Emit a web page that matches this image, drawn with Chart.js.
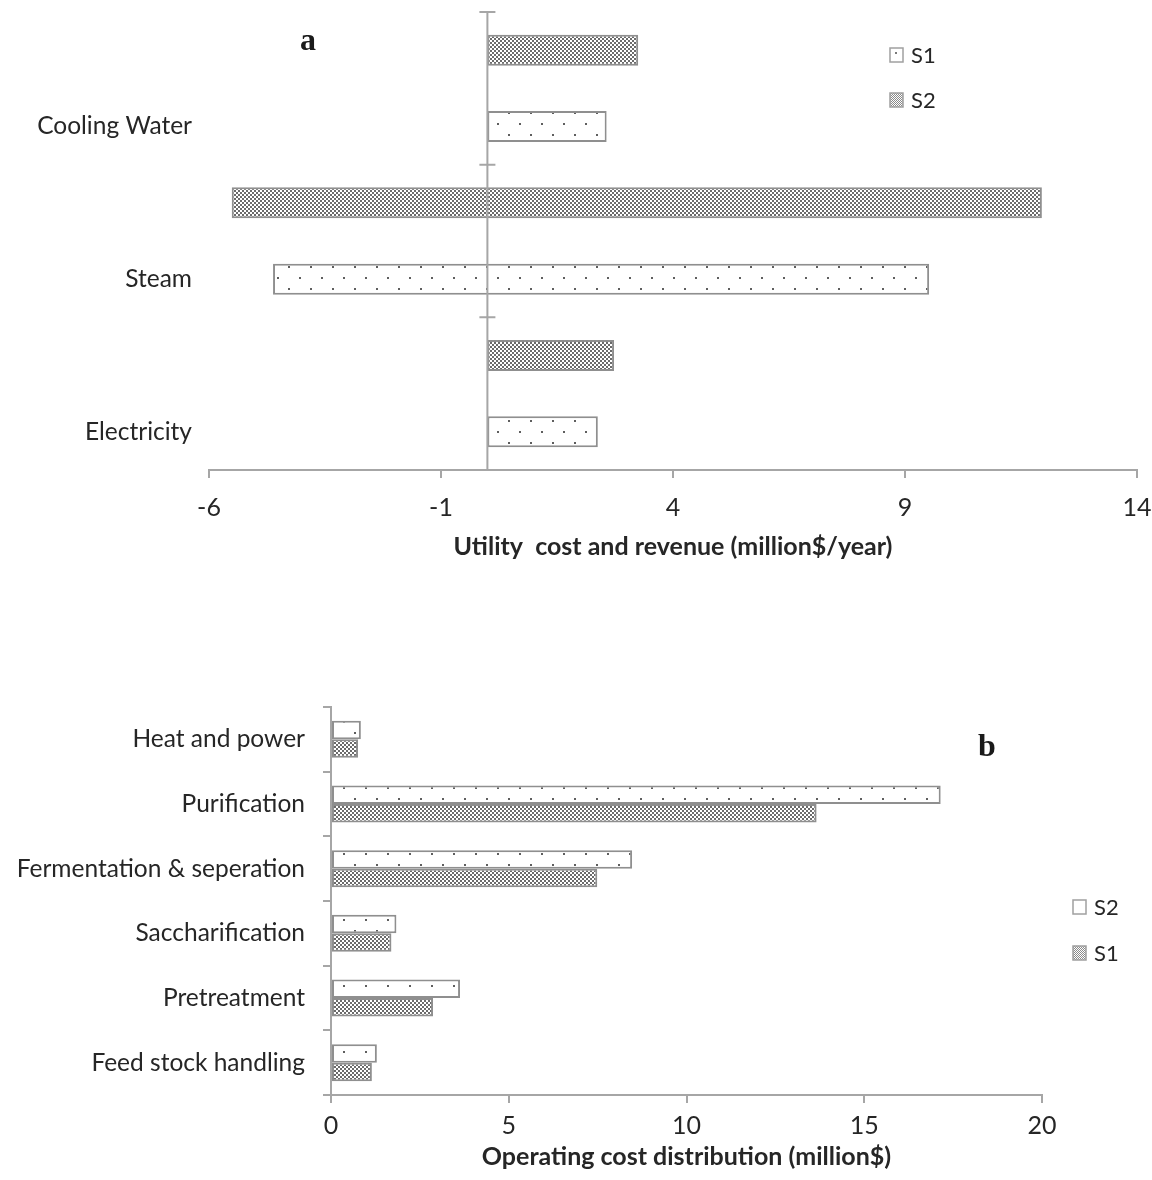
<!DOCTYPE html>
<html>
<head>
<meta charset="utf-8">
<script src="https://cdn.jsdelivr.net/npm/chart.js@4.4.0/dist/chart.umd.min.js"></script>
<style>
  html, body { margin: 0; padding: 0; background: #fff; }
  #wrapA { position: absolute; left: 0; top: 0; width: 1152px; height: 580px; }
  #wrapB { position: absolute; left: 0; top: 620px; width: 1152px; height: 560px; }
</style>
</head>
<body>
<div id="wrapA"><canvas id="chartA"></canvas></div>
<div id="wrapB"><canvas id="chartB"></canvas></div>
<script>
// Panel a: utility cost (positive) and revenue (negative), million $/year
const utilityCategories = ['Cooling Water', 'Steam', 'Electricity'];
const utilityCostS1 = [2.57, 9.52, 2.38];
const utilityRevenueS1 = [0, -4.62, 0];
const utilityCostS2 = [3.25, 11.95, 2.73];
const utilityRevenueS2 = [0, -5.51, 0];
const utilityTicks = [-6, -1, 4, 9, 14];

// Panel b: operating cost distribution by process area, million $
const stageCategories = ['Heat and power', 'Purification', 'Fermentation & seperation',
  'Saccharification', 'Pretreatment', 'Feed stock handling'];
const stageCostS2 = [0.84, 17.15, 8.47, 1.84, 3.63, 1.29];
const stageCostS1 = [0.76, 13.66, 7.49, 1.70, 2.87, 1.15];
const stageTicks = [0, 5, 10, 15, 20];

const FONT = 'Lato';
const TEXT = '#262626';
const AXIS = '#a6a6a6';
const EDGE = '#8f8f8f';

Chart.defaults.font.family = FONT;
Chart.defaults.color = TEXT;
Chart.defaults.animation = false;

// fill patterns: fine checker and sparse dots
function makeChecker(cell, dark) {
  const c = document.createElement('canvas');
  c.width = c.height = cell * 2;
  const g = c.getContext('2d');
  g.fillStyle = '#fff'; g.fillRect(0, 0, cell * 2, cell * 2);
  g.fillStyle = dark;
  g.fillRect(0, 0, cell, cell);
  g.fillRect(cell, cell, cell, cell);
  return g.createPattern(c, 'repeat');
}
function makeDots(step, size, color) {
  const c = document.createElement('canvas');
  c.width = c.height = step * 2;
  const g = c.getContext('2d');
  g.fillStyle = '#fff'; g.fillRect(0, 0, step * 2, step * 2);
  g.fillStyle = color;
  g.fillRect(2, 2, size, size);
  g.fillRect(step + 2, step + 2, size, size);
  return g.createPattern(c, 'repeat');
}
const checker = makeChecker(2, '#6b6b6b');
const checkerFine = makeChecker(1, '#8a8a8a');
const dots = makeDots(11, 2, '#5e5e5e');

function drawLegend(ctx, items, x, y0, gap) {
  ctx.save();
  ctx.font = '22px ' + FONT;
  ctx.textBaseline = 'middle';
  ctx.textAlign = 'left';
  items.forEach((it, i) => {
    const cy = y0 + i * gap;
    ctx.fillStyle = it.fill;
    ctx.fillRect(x, cy - 7, 13, 14);
    ctx.strokeStyle = '#a0a0a0';
    ctx.lineWidth = 1.5;
    ctx.strokeRect(x, cy - 7, 13, 14);
    if (it.dot) {
      ctx.fillStyle = '#7a7a7a';
      ctx.fillRect(x + 5, cy - 3, 2, 2);
    }
    ctx.fillStyle = TEXT;
    ctx.fillText(it.label, x + 21, cy + 1);
  });
  ctx.restore();
}

function drawLetter(ctx, letter, x, y) {
  ctx.save();
  ctx.font = 'bold 32px "Liberation Serif"';
  ctx.fillStyle = '#1a1a1a';
  ctx.textAlign = 'center';
  ctx.textBaseline = 'middle';
  ctx.fillText(letter, x, y);
  ctx.restore();
}

// vertical axis through zero with ticks on the category boundaries
const zeroAxis = {
  id: 'zeroAxis',
  afterDatasetsDraw(chart) {
    const { ctx, chartArea: { top, bottom }, scales: { x, y } } = chart;
    const x0 = x.getPixelForValue(0);
    const n = y.ticks.length;
    const step = (bottom - top) / n;
    ctx.save();
    ctx.strokeStyle = AXIS;
    ctx.lineWidth = 2;
    ctx.beginPath();
    ctx.moveTo(x0, top);
    ctx.lineTo(x0, bottom);
    for (let i = 0; i < n; i++) {
      const yy = top + i * step;
      ctx.moveTo(x0 - 8, yy);
      ctx.lineTo(x0 + 8, yy);
    }
    ctx.stroke();
    ctx.restore();
  }
};

const decorA = {
  id: 'decorA',
  afterDraw(chart) {
    const ctx = chart.ctx;
    drawLegend(ctx, [
      { label: 'S1', fill: '#fff', dot: true },
      { label: 'S2', fill: checkerFine }
    ], 890, 55, 45);
    drawLetter(ctx, 'a', 308, 42);
  }
};

const decorB = {
  id: 'decorB',
  afterDraw(chart) {
    const ctx = chart.ctx;
    drawLegend(ctx, [
      { label: 'S2', fill: '#fff' },
      { label: 'S1', fill: checkerFine }
    ], 1073, 287, 46);
    drawLetter(ctx, 'b', 987, 128);
  }
};

const noPadX = s => { s.paddingLeft = 0; s.paddingRight = 0; };
const noPadY = s => { s.paddingTop = 0; s.paddingBottom = 0; };

new Chart(document.getElementById('chartA'), {
  type: 'bar',
  data: {
    labels: utilityCategories,
    datasets: [
      {
        label: 'S2',
        data: utilityCategories.map((_, i) => [utilityRevenueS2[i], utilityCostS2[i]]),
        backgroundColor: checker, borderColor: EDGE, borderWidth: 2, borderSkipped: false
      },
      {
        label: 'S1',
        data: utilityCategories.map((_, i) => [utilityRevenueS1[i], utilityCostS1[i]]),
        backgroundColor: dots, borderColor: EDGE, borderWidth: 2, borderSkipped: false
      }
    ]
  },
  options: {
    indexAxis: 'y',
    responsive: true,
    maintainAspectRatio: false,
    layout: { padding: { left: 0, right: 15, top: 12, bottom: 18 } },
    datasets: { bar: { categoryPercentage: 1.0, barPercentage: 0.406 } },
    plugins: { legend: { display: false }, tooltip: { enabled: false } },
    scales: {
      x: {
        type: 'linear', min: -6, max: 14,
        afterBuildTicks: s => { s.ticks = utilityTicks.map(v => ({ value: v })); },
        afterFit: s => { s.height = 92; noPadX(s); },
        grid: { drawOnChartArea: false, drawTicks: true, tickLength: 8, color: AXIS, lineWidth: 2 },
        border: { display: true, color: AXIS, width: 2 },
        ticks: { font: { size: 25 }, padding: 15, color: TEXT, maxRotation: 0 },
        title: {
          display: true, text: 'Utility  cost and revenue (million$/year)',
          font: { size: 25, weight: 'bold' }, color: TEXT, padding: { top: 0, bottom: 0 }
        }
      },
      y: {
        afterFit: s => { s.width = 209; noPadY(s); },
        grid: { display: false, drawTicks: false },
        border: { display: false },
        ticks: { font: { size: 24.5 }, padding: 17, labelOffset: 38, color: TEXT }
      }
    }
  },
  plugins: [zeroAxis, decorA]
});

new Chart(document.getElementById('chartB'), {
  type: 'bar',
  data: {
    labels: stageCategories,
    datasets: [
      { label: 'S2', data: stageCostS2, backgroundColor: dots, borderColor: EDGE, borderWidth: 2, borderSkipped: false },
      { label: 'S1', data: stageCostS1, backgroundColor: checker, borderColor: EDGE, borderWidth: 2, borderSkipped: false }
    ]
  },
  options: {
    indexAxis: 'y',
    responsive: true,
    maintainAspectRatio: false,
    layout: { padding: { left: 0, right: 110, top: 87, bottom: 8 } },
    datasets: { bar: { categoryPercentage: 0.572, barPercentage: 1.0 } },
    plugins: { legend: { display: false }, tooltip: { enabled: false } },
    scales: {
      x: {
        type: 'linear', min: 0, max: 20,
        afterBuildTicks: s => { s.ticks = stageTicks.map(v => ({ value: v })); },
        afterFit: s => { s.height = 77; noPadX(s); },
        grid: { drawOnChartArea: false, drawTicks: true, tickLength: 8, color: AXIS, lineWidth: 2 },
        border: { display: true, color: AXIS, width: 2 },
        ticks: { font: { size: 25 }, padding: 8, color: TEXT, maxRotation: 0 },
        title: {
          display: true, text: 'Operating cost distribution (million$)',
          font: { size: 25, weight: 'bold' }, color: TEXT, padding: { top: 0, bottom: 0 }
        }
      },
      y: {
        afterFit: s => { s.width = 331; noPadY(s); },
        grid: { display: true, drawOnChartArea: false, drawTicks: true, tickLength: 8, color: AXIS, lineWidth: 2, offset: true },
        border: { display: true, color: AXIS, width: 2 },
        ticks: { font: { size: 24.5 }, padding: 18, color: TEXT }
      }
    }
  },
  plugins: [decorB]
});
</script>
</body>
</html>
